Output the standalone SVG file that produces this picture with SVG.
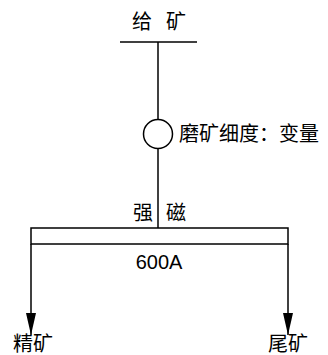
<svg xmlns="http://www.w3.org/2000/svg" width="328" height="355" viewBox="0 0 328 355">
<style>
.ln{stroke:#000;stroke-width:1.5;fill:none}
.t{font-family:"Liberation Sans","Noto Sans CJK SC",sans-serif;font-size:20px;fill:#000}
</style>
<defs>
<marker id="ar" markerWidth="22" markerHeight="10" refX="22" refY="5" orient="auto" markerUnits="userSpaceOnUse" viewBox="0 0 22 10">
<path d="M0,0 L22,5 L0,10 Z" fill="#000"/>
</marker>
</defs>
<rect width="328" height="355" fill="#fff"/>
<g id="feed">
<text class="t" x="132" y="29">给</text>
<text class="t" x="166" y="29">矿</text>
<line class="ln" x1="120" y1="42" x2="197" y2="42"/>
</g>
<g id="grind">
<circle class="ln" cx="158" cy="134" r="14.5"/>
<text class="t" x="179" y="141" font-size="20.5">磨矿细度：变量</text>
</g>
<g id="separator">
<text class="t" x="133" y="220">强</text>
<text class="t" x="166" y="220">磁</text>
<rect class="ln" x="31" y="228" width="257" height="16"/>
<text class="t" x="159" y="269" text-anchor="middle" font-size="19">600A</text>
</g>
<g id="concentrate">
<text class="t" x="13" y="351">精矿</text>
</g>
<g id="tailings">
<text class="t" x="268" y="351">尾矿</text>
</g>
<g id="connectors">
<line class="ln" x1="158" y1="42" x2="158" y2="119.5"/>
<line class="ln" x1="158" y1="148.5" x2="158" y2="228"/>
<line class="ln" x1="31" y1="244" x2="31" y2="335" marker-end="url(#ar)"/>
<line class="ln" x1="288" y1="244" x2="288" y2="335" marker-end="url(#ar)"/>
</g>
</svg>
